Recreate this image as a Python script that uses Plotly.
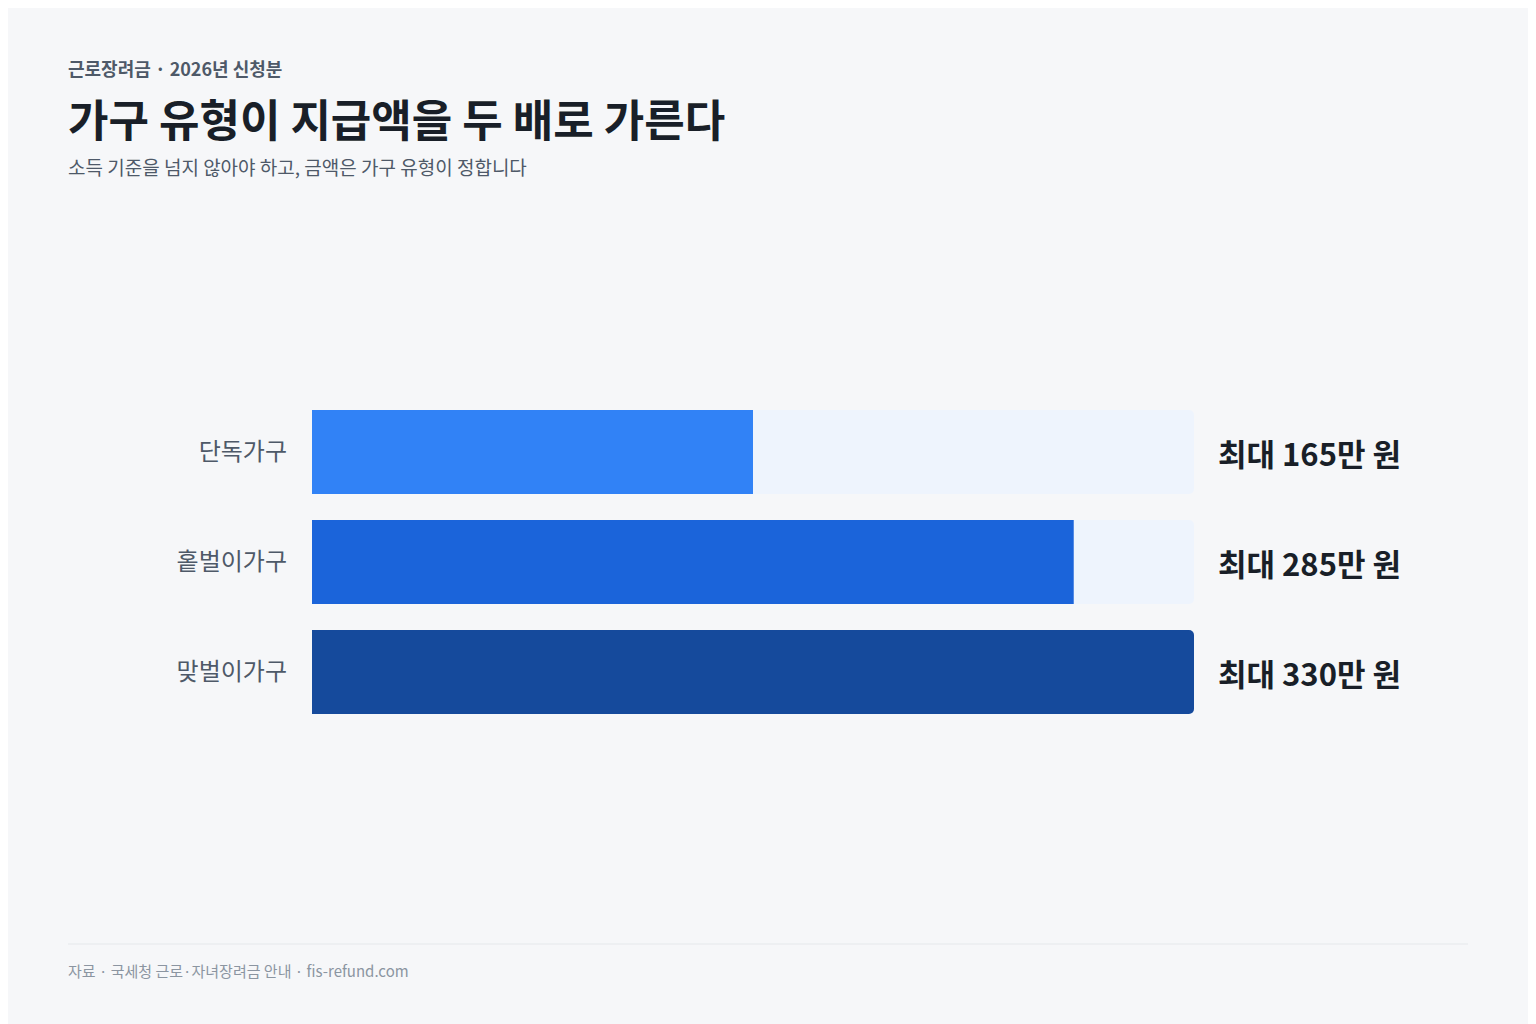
import plotly.graph_objects as go

categories = ["단독가구", "홑벌이가구", "맞벌이가구"]
values = [165, 285, 330]
value_labels = ["최대 165만 원", "최대 285만 원", "최대 330만 원"]
colors = ["#3182f6", "#1b64da", "#154a9c"]
max_value = 330

FONT = "Noto Sans CJK KR"
W, H = 1536, 1024
OFF = 8  # page body offset
L, R, T, B = 312 - OFF, 342 + OFF, 397 - OFF, 297 + OFF
PW, PH = W - L - R, H - T - B

def px(x):
    return (x - OFF - L) / PW

def py(y):
    return 1 - (y - OFF - T) / PH

fig = go.Figure()
fig.add_trace(go.Bar(y=categories, x=[max_value]*3, orientation="h",
                     marker=dict(color="#eef4fd", cornerradius=5, line_width=0),
                     hoverinfo="skip", showlegend=False))
fig.add_trace(go.Bar(y=categories, x=values, orientation="h",
                     marker=dict(color=colors, cornerradius=5, line_width=0),
                     showlegend=False))

for c, lab in zip(categories, value_labels):
    fig.add_annotation(x=max_value, y=c, xref="x", yref="y", text=lab,
                       showarrow=False, xanchor="left", xshift=22,
                       font=dict(family=FONT, size=31, color="#191f28", weight="bold"))

def txt(x, y, s, size, color, bold=False):
    fig.add_annotation(x=px(x), y=py(y), xref="paper", yref="paper", text=s,
                       showarrow=False, xanchor="left", yanchor="middle",
                       font=dict(family=FONT, size=size, color=color,
                                 weight="bold" if bold else "normal"))

txt(66, 68, "근로장려금 · 2026년 신청분", 18, "#4e5968", True)
txt(66, 118, "가구 유형이 지급액을 두 배로 가른다", 44, "#191f28", True)
txt(66, 166, "소득 기준을 넘지 않아야 하고, 금액은 가구 유형이 정합니다", 19, "#4e5968")
txt(66, 970, "자료 · 국세청 근로·자녀장려금 안내 · fis-refund.com", 15, "#8b95a1")
fig.add_shape(type="line", xref="paper", yref="paper", x0=px(68), x1=px(1468),
              y0=py(944), y1=py(944), line=dict(color="#e5e8eb", width=1))

fig.update_layout(
    width=W, height=H, barmode="overlay", bargap=1-84/110,
    paper_bgcolor="#f6f7f9", plot_bgcolor="#f6f7f9",
    margin=dict(l=L, r=R, t=T, b=B, pad=0),
    xaxis=dict(range=[0, max_value], visible=False, fixedrange=True),
    yaxis=dict(autorange="reversed", showgrid=False, zeroline=False, showline=False,
               ticks="", ticklabelstandoff=24,
               tickfont=dict(family=FONT, size=24, color="#4e5968")),
)
fig.write_html("out.html")
